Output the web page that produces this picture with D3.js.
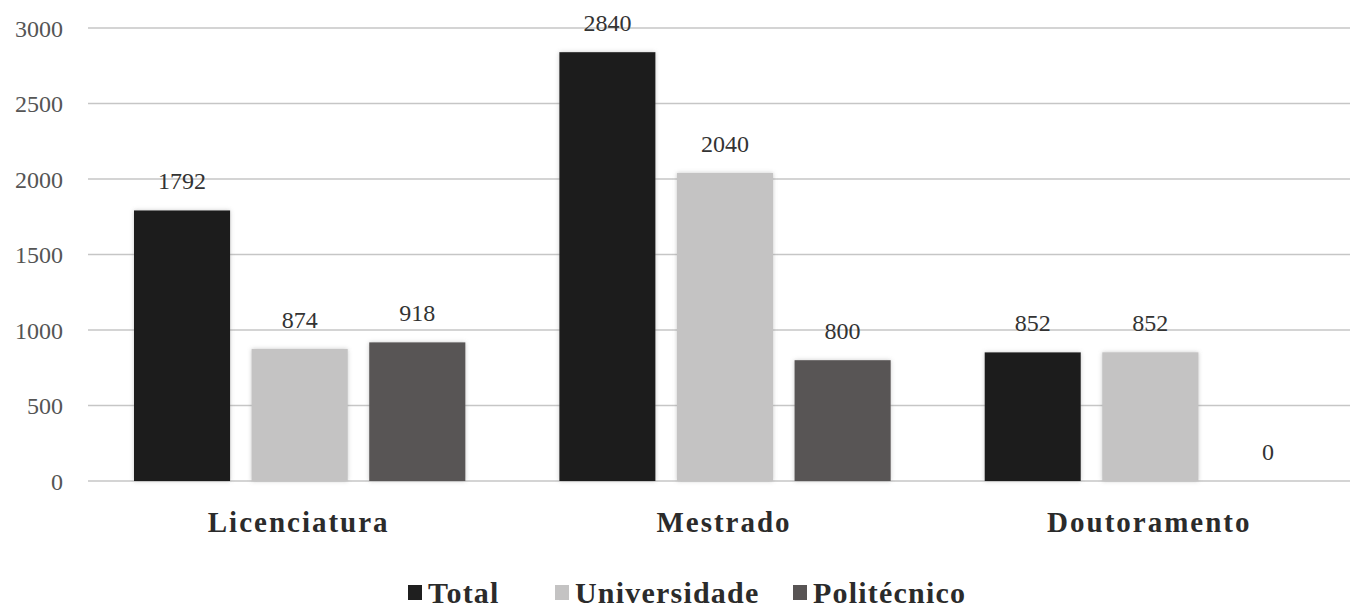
<!DOCTYPE html>
<html><head><meta charset="utf-8">
<script src="https://cdn.jsdelivr.net/npm/d3@7"></script>
<style>body{margin:0;background:#fff}svg{display:block}
#c text{font-family:"Liberation Serif","Tinos","Times New Roman",serif !important}</style>
</head><body>
<svg id="c" width="1350" height="611"></svg>
<script>
const categories = ["Licenciatura", "Mestrado", "Doutoramento"];
const seriesNames = ["Total", "Universidade", "Polit\u00e9cnico"];
const totalValues = [1792, 2840, 852];
const universidadeValues = [874, 2040, 852];
const politecnicoValues = [918, 800, 0];
const yTicks = [0, 500, 1000, 1500, 2000, 2500, 3000];
const colors = ["#1f1f1f", "#c4c3c3", "#585454"];
const FONT = '"Liberation Serif", "Tinos", "Times New Roman", serif';

const seriesValues = [totalValues, universidadeValues, politecnicoValues];
const svg = d3.select("#c").attr("font-family", FONT);
const defs = svg.append("defs");
const f = defs.append("filter").attr("id","sh").attr("x","-10%").attr("y","-10%").attr("width","120%").attr("height","120%");
f.append("feDropShadow").attr("dx",0).attr("dy",0).attr("stdDeviation",2).attr("flood-color","#888").attr("flood-opacity",0.45);

const y = d3.scaleLinear().domain([0,3000]).range([481,28]);
const x0 = d3.scaleBand().domain(categories).range([87,1363]).paddingInner(0).paddingOuter(0);
const x1 = d3.scaleBand().domain(seriesNames).range([47, x0.bandwidth()-47]).paddingInner(0.183).paddingOuter(0);

svg.append("g").selectAll("line").data(yTicks).join("line")
  .attr("x1",88).attr("x2",1350).attr("y1",d=>y(d)).attr("y2",d=>y(d))
  .attr("stroke","#c6c6c6").attr("stroke-width",1.6);

const yAxis = d3.axisLeft(y).tickValues(yTicks).tickFormat(d3.format("d")).tickSize(0).tickPadding(0);
const ga = svg.append("g").attr("transform","translate(63,0)").call(yAxis);
ga.select(".domain").remove();
ga.attr("font-family", FONT).attr("font-size", 24);
ga.selectAll("text").attr("font-family", FONT).style("font-family",FONT).style("font-size","24px").attr("fill","#555").attr("dy","0.34em");

const groups = svg.append("g").selectAll("g").data(categories).join("g")
  .attr("transform",c=>`translate(${x0(c)},0)`);
groups.each(function(c,ci){
  const g = d3.select(this);
  const data = seriesNames.map((s,si)=>({s, si, v: seriesValues[si][ci]}));
  g.selectAll("rect").data(data.filter(d=>d.v>0)).join("rect")
    .attr("x",d=>x1(d.s)).attr("width",x1.bandwidth())
    .attr("y",d=>y(d.v)).attr("height",d=>y(0)-y(d.v))
    .attr("fill",d=>colors[d.si]).attr("filter","url(#sh)");
  g.selectAll("text.v").data(data).join("text").attr("class","v")
    .attr("x",d=>x1(d.s)+x1.bandwidth()/2).attr("y",d=>y(d.v)-21)
    .attr("text-anchor","middle").attr("font-family", FONT).style("font-family",FONT).style("font-size","24px")
    .attr("fill","#333").text(d=>d.v);
});

svg.append("g").selectAll("text").data(categories).join("text")
  .attr("x",c=>x0(c)+x0.bandwidth()/2 - 1).attr("y",532)
  .attr("text-anchor","middle").attr("font-family", FONT).style("font-family",FONT).style("font-weight","bold").style("font-size","29px")
  .style("letter-spacing","2px").attr("fill","#2b2b2b").text(c=>c);

const legendX = [408, 555, 793];
const lg = svg.append("g").selectAll("g").data(seriesNames).join("g")
  .attr("transform",(d,i)=>`translate(${legendX[i]},0)`);
lg.append("rect").attr("x",0).attr("y",585).attr("width",14).attr("height",15)
  .attr("fill",(d,i)=>colors[i]);
lg.append("text").attr("x",20).attr("y",603)
  .attr("font-family", FONT).style("font-family",FONT).style("font-weight","bold").style("font-size","30px").style("letter-spacing","1.2px")
  .attr("fill","#2b2b2b").text(d=>d);
</script>
</body></html>
